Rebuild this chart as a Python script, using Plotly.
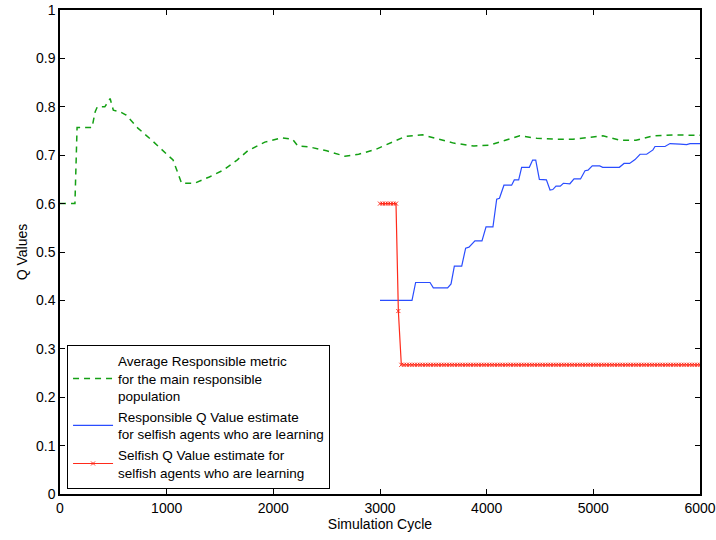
import plotly.graph_objects as go

# Green: Average Responsible metric for the main responsible population
green_x = [0, 140, 160, 200, 300, 330, 350, 420, 470, 500, 560, 620, 730, 870, 960, 1060,
           1140, 1260, 1400, 1530, 1660, 1760, 1920, 2080, 2180, 2230, 2340, 2500, 2670,
           2800, 2960, 3110, 3240, 3400, 3530, 3690, 3880, 4030, 4160, 4310, 4470, 4660,
           4810, 4970, 5090, 5250, 5400, 5560, 5750, 6000]
green_y = [0.600, 0.600, 0.757, 0.757, 0.757, 0.790, 0.800, 0.800, 0.817, 0.793, 0.790,
           0.783, 0.756, 0.729, 0.711, 0.690, 0.642, 0.642, 0.655, 0.669, 0.690, 0.709,
           0.727, 0.736, 0.733, 0.719, 0.717, 0.709, 0.698, 0.702, 0.712, 0.726, 0.739,
           0.742, 0.735, 0.725, 0.719, 0.721, 0.730, 0.740, 0.735, 0.733, 0.733, 0.737,
           0.740, 0.731, 0.731, 0.740, 0.742, 0.741]

# Blue: Responsible Q Value estimate for selfish agents who are learning
blue_x = [3000, 3300, 3334, 3469, 3500, 3634, 3666, 3697, 3766, 3803, 3834, 3890, 3956,
          3994, 4059, 4094, 4120, 4162, 4234, 4259, 4300, 4328, 4400, 4431, 4460, 4494,
          4560, 4594, 4620, 4650, 4690, 4719, 4780, 4819, 4880, 4922, 4950, 4990, 5060,
          5088, 5244, 5288, 5340, 5391, 5438, 5500, 5559, 5578, 5672, 5719, 5813, 5875,
          5906, 6000]
blue_y = [0.400, 0.400, 0.437, 0.437, 0.426, 0.426, 0.434, 0.471, 0.471, 0.508, 0.510,
          0.523, 0.523, 0.552, 0.552, 0.609, 0.611, 0.638, 0.638, 0.649, 0.649, 0.675,
          0.675, 0.690, 0.690, 0.650, 0.649, 0.628, 0.629, 0.636, 0.636, 0.642, 0.641,
          0.651, 0.651, 0.668, 0.669, 0.678, 0.678, 0.675, 0.675, 0.683, 0.683, 0.691,
          0.702, 0.702, 0.711, 0.718, 0.718, 0.724, 0.723, 0.722, 0.724, 0.724]

# Red: Selfish Q Value estimate for selfish agents who are learning
# piecewise levels read from the picture (start, end, value), sampled every 25 cycles
red_levels = [(3000, 3150, 0.600), (3200, 6000, 0.267)]
red_step = 25
red_x, red_y = [], []
for a, b, v in red_levels[:1]:
    for xv in range(a, b + 1, red_step):
        red_x.append(xv); red_y.append(v)
red_x.append(3172); red_y.append(0.378)
for a, b, v in red_levels[1:]:
    for xv in range(a, b + 1, red_step):
        red_x.append(xv); red_y.append(v)

x_ticks = [0, 1000, 2000, 3000, 4000, 5000, 6000]
y_ticks = [0, 0.1, 0.2, 0.3, 0.4, 0.5, 0.6, 0.7, 0.8, 0.9, 1]
y_tick_text = ["0", "0.1", "0.2", "0.3", "0.4", "0.5", "0.6", "0.7", "0.8", "0.9", "1"]

FONT = "Liberation Sans, Arial, Helvetica, sans-serif"
FS = 14

fig = go.Figure()
fig.add_trace(go.Scatter(
    x=green_x, y=green_y, mode="lines",
    name="Average Responsible metric<br>for the main responsible<br>population",
    line=dict(color="#14a014", width=1.5, dash="6px,5px"),
))
fig.add_trace(go.Scatter(
    x=blue_x, y=blue_y, mode="lines",
    name="Responsible Q Value estimate<br>for selfish agents who are learning",
    line=dict(color="#2a4dff", width=1.2),
))
fig.add_trace(go.Scatter(
    x=red_x, y=red_y, mode="lines+markers",
    name="Selfish Q Value estimate for<br>selfish agents who are learning",
    line=dict(color="#ff2a1a", width=1.2),
    marker=dict(symbol="x-thin", size=4, color="#ff2a1a",
                line=dict(color="#ff2a1a", width=1)),
))

axis_common = dict(
    showgrid=False, zeroline=False, showline=True, linecolor="black", linewidth=1.5,
    mirror="ticks", ticks="inside", ticklen=5, tickwidth=1, tickcolor="black",
    tickfont=dict(family=FONT, size=FS, color="black"), automargin=False,
)
fig.update_xaxes(range=[0, 6000], tickvals=x_ticks, ticktext=[str(t) for t in x_ticks],
                 title=dict(text="Simulation Cycle", font=dict(family=FONT, size=FS, color="black"),
                            standoff=2),
                 **axis_common)
fig.update_yaxes(range=[0, 1], tickvals=y_ticks, ticktext=y_tick_text,
                 title=dict(text="Q Values", font=dict(family=FONT, size=FS, color="black"),
                            standoff=5),
                 **axis_common)

fig.update_layout(
    width=716, height=540,
    margin=dict(l=60, r=16, t=10, b=46, autoexpand=False),
    plot_bgcolor="white", paper_bgcolor="white",
    font=dict(family=FONT, size=FS, color="black"),
    legend=dict(
        x=0.011, y=0.011, xanchor="left", yanchor="bottom",
        bgcolor="white", bordercolor="black", borderwidth=1,
        font=dict(family=FONT, size=13.5, color="black"),
        tracegroupgap=0, itemwidth=40,
        entrywidth=230, entrywidthmode="pixels",
    ),
)

fig.write_html("out.html", config={"displayModeBar": False},
               post_script="document.body.style.margin='0';document.body.style.padding='0';")
